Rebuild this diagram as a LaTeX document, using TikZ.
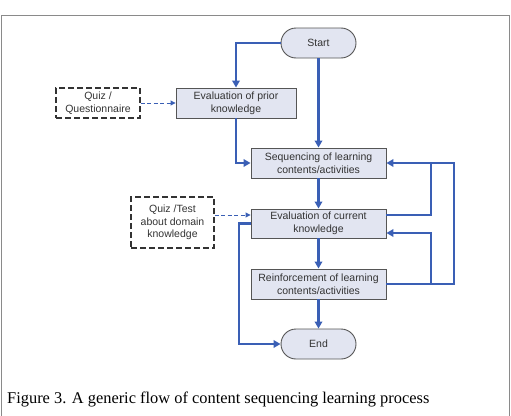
\documentclass[tikz,border=0pt]{standalone}
\usepackage{fontspec}
\setmainfont{Liberation Serif}
\newfontfamily\boxfont{Liberation Sans}
\usetikzlibrary{arrows.meta,calc}
\definecolor{flowblue}{HTML}{3A5FB5}
\definecolor{boxfill}{HTML}{E2E5F1}
\definecolor{boxline}{HTML}{555555}
\definecolor{framegray}{HTML}{8A8A8A}
\definecolor{textgray}{HTML}{333333}
\begin{document}
\begin{tikzpicture}[x=1pt,y=-1pt,
  box/.style={draw=boxline, fill=boxfill, line width=0.9pt, text=textgray, font=\boxfont\fontsize{10.5}{12.7}\selectfont, align=center, minimum height=30pt, inner sep=0pt},
  term/.style={box, rounded corners=15pt, minimum width=75pt},
  note/.style={draw=textgray, dash pattern=on 6pt off 3pt, line width=1.1pt, text=textgray, align=center, font=\boxfont\fontsize{10.5}{12.7}\selectfont, inner sep=0pt},
  flowline/.style={draw=flowblue, line width=2.2pt, line join=miter},
  flow/.style={flowline, -{Triangle[length=7pt,width=7.5pt]}},
  link/.style={draw=flowblue, line width=0.9pt, dash pattern=on 4pt off 2.5pt, -{Triangle[length=5pt,width=5pt]}}]
\useasboundingbox (0,0) rectangle (511,415);
\draw[framegray, line width=1pt] (1,416) -- (1,15) -- (509.5,15) -- (509.5,416);

\node[term] (start) at (318.5,43) {Start};
\node[box, minimum width=120pt] (prior) at (236,103) {Evaluation of prior\\knowledge};
\node[note, minimum width=84pt, minimum height=30pt] (quiz1) at (98,103) {Quiz /\\Questionnaire};
\node[box, minimum width=135pt] (seq) at (318.5,163) {Sequencing of learning\\contents/activities};
\node[box, minimum width=135pt, minimum height=29pt] (cur) at (318.5,223.5) {Evaluation of current\\knowledge};
\node[note, minimum width=83pt, minimum height=51pt] (quiz2) at (172.5,222.5) {Quiz /Test\\about domain\\knowledge};
\node[box, minimum width=135pt] (reinf) at (318.5,284) {Reinforcement of learning\\contents/activities};
\node[term] (end) at (318.5,344) {End};

\coordinate (rx1) at (431,0);
\coordinate (rx2) at (454,0);
\coordinate (lx) at (239,0);
\path ([yshift=8.5pt]cur.west) coordinate (curin);
\path ([yshift=8.5pt]cur.east) coordinate (curout);
\path ([yshift=-9.5pt]cur.east) coordinate (curlow);

\draw[flow] (start.west) -| (prior.north);
\draw[flow] (start.south) -- (seq.north);
\draw[flow] (prior.south) |- (seq.west);
\draw[flow] (seq.south) -- (cur.north);
\draw[flow] (cur.south) -- (reinf.north);
\draw[flow] (reinf.south) -- (end.north);
\draw[link] (quiz1.east) -- (prior.west);
\draw[link] (quiz2.east |- curin) -- (curin);

\draw[flow] (curout) -| (rx1 |- seq.east) -- (seq.east);
\draw[flow] (reinf.east) -| (rx1 |- curlow) -- (curlow);
\draw[flowline] (reinf.east) -| (rx2 |- seq.east) -- (rx1 |- seq.east);
\draw[flow] (cur.west) -| (lx |- end.west) -- (end.west);

\node[anchor=base west, font=\fontsize{16.4}{19}\selectfont, inner sep=0pt] (cap) at (7,403) {Figure 3. A generic flow of content sequencing learning process};
\end{tikzpicture}
\end{document}
